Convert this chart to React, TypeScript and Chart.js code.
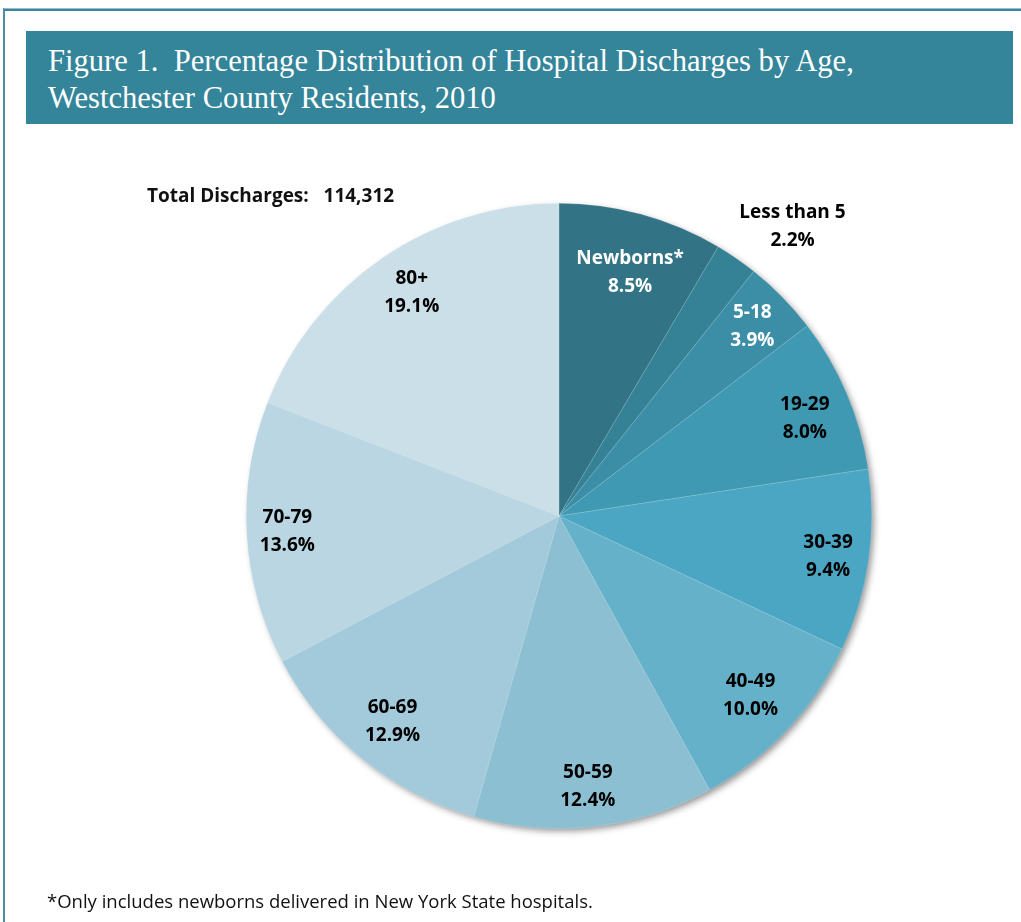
import React, { useEffect, useRef } from "react";
import { Chart, registerables } from "chart.js";

Chart.register(...registerables);

const categories = ["Newborns*", "Less than 5", "5-18", "19-29", "30-39", "40-49", "50-59", "60-69", "70-79", "80+"];
const percentages = [8.5, 2.2, 3.9, 8.0, 9.4, 10.0, 12.4, 12.9, 13.6, 19.1];
const percentLabels = ["8.5%", "2.2%", "3.9%", "8.0%", "9.4%", "10.0%", "12.4%", "12.9%", "13.6%", "19.1%"];
const totalDischarges = "114,312";

const sliceColors = ["#327385", "#358196", "#3b8ea6", "#4099b3", "#4aa6c2", "#66b1ca", "#8bbfd1", "#a3cadb", "#b9d6e2", "#cbdfe8"];
const labelColors = ["#ffffff", "#000000", "#ffffff", "#000000", "#000000", "#000000", "#000000", "#000000", "#000000", "#000000"];
const labelRadius = [0.81, 1.19, 0.866, 0.845, 0.87, 0.84, 0.87, 0.845, 0.87, 0.856];
const labelAngleShiftDeg = [1, 4.3, 0, 1.5, 0.3, 0, 0.4, 0, 0, 1];

const LABEL_FONT = "bold 19px 'Open Sans'";

const shadowPlugin = {
  id: "pieShadow",
  beforeDatasetsDraw(chart: any) {
    const meta = chart.getDatasetMeta(0);
    const el = meta.data[0];
    if (!el) return;
    const ctx = chart.ctx;
    ctx.save();
    ctx.shadowColor = "rgba(0,0,0,0.45)";
    ctx.shadowBlur = 7;
    ctx.shadowOffsetX = 3;
    ctx.shadowOffsetY = 3;
    ctx.beginPath();
    ctx.arc(el.x, el.y, el.outerRadius - 1, 0, Math.PI * 2);
    ctx.fillStyle = "#9fc6d6";
    ctx.fill();
    ctx.restore();
  },
};

const labelPlugin = {
  id: "sliceLabels",
  afterDatasetsDraw(chart: any) {
    const meta = chart.getDatasetMeta(0);
    const ctx = chart.ctx;
    ctx.save();
    ctx.font = LABEL_FONT;
    ctx.textAlign = "center";
    ctx.textBaseline = "middle";
    meta.data.forEach((el: any, i: number) => {
      const mid = (el.startAngle + el.endAngle) / 2 + (labelAngleShiftDeg[i] * Math.PI) / 180;
      const r = el.outerRadius * labelRadius[i];
      const x = el.x + Math.cos(mid) * r;
      const y = el.y + Math.sin(mid) * r;
      ctx.fillStyle = labelColors[i];
      ctx.fillText(categories[i], x, y - 14);
      ctx.fillText(percentLabels[i], x, y + 14);
    });
    ctx.restore();
  },
};

export default function App() {
  const canvasRef = useRef<HTMLCanvasElement | null>(null);

  useEffect(() => {
    if (!canvasRef.current) return;
    const chart = new Chart(canvasRef.current, {
      type: "pie",
      data: {
        labels: categories,
        datasets: [
          {
            data: percentages,
            backgroundColor: sliceColors,
            borderColor: "rgba(255,255,255,0.3)",
            borderWidth: 0.5,
          },
        ],
      },
      options: {
        animation: false,
        responsive: false,
        maintainAspectRatio: false,
        rotation: 0,
        layout: { padding: { top: 203, bottom: 93, left: 246, right: 149 } },
        plugins: {
          legend: { display: false },
          tooltip: { enabled: false },
          title: { display: false },
        },
      },
      plugins: [shadowPlugin, labelPlugin],
    });
    return () => chart.destroy();
  }, []);

  return (
    <div style={{ position: "absolute", left: 0, top: 0, width: 1021, height: 922, background: "#fff", overflow: "hidden" }}>
      <div style={{ position: "absolute", left: 3, top: 8, width: 1030, height: 930, borderTop: "1px solid #8fc0cd", borderLeft: "2px solid #4a8ea1" }} />
      <div style={{ position: "absolute", left: 5, top: 9, width: 1030, height: 0, borderTop: "2px solid #3d8296" }} />
      <canvas ref={canvasRef} width={1021} height={922} style={{ position: "absolute", left: 0, top: 0 }} />
      <div
        style={{
          position: "absolute",
          left: 26,
          top: 31,
          width: 987,
          height: 93,
          background: "#34849a",
          color: "#fff",
          fontFamily: "'Liberation Serif', serif",
          fontSize: 30.6,
          lineHeight: "37px",
          padding: "12px 0 0 22px",
          boxSizing: "border-box",
        }}
      >
        Figure 1.&nbsp; Percentage Distribution of Hospital Discharges by Age,
        <br />
        Westchester County Residents, 2010
      </div>
      <div style={{ position: "absolute", left: 147, top: 182, fontFamily: "'Open Sans'", fontWeight: 700, fontSize: 19, color: "#111", whiteSpace: "pre" }}>
        {"Total Discharges:   " + totalDischarges}
      </div>
      <div style={{ position: "absolute", left: 47, top: 888, fontFamily: "'Open Sans'", fontSize: 18.5, color: "#111" }}>
        *Only includes newborns delivered in New York State hospitals.
      </div>
    </div>
  );
}
